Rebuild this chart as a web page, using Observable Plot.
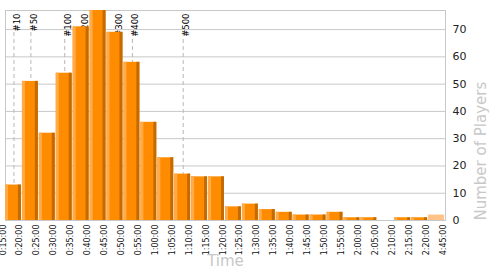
<!DOCTYPE html>
<html>
<head>
<meta charset="utf-8">
<script src="https://cdn.jsdelivr.net/npm/d3@7"></script>
<script src="https://cdn.jsdelivr.net/npm/@observablehq/plot@0.6"></script>
<style>
  html, body { margin: 0; padding: 0; background: #fff; }
  #chart svg { display: block; }
</style>
</head>
<body>
<div id="chart"></div>
<script>
// Bin edges (tick labels) – last bin is an overflow bin 2:20:00–4:45:00
const edgeLabels = ["0:15:00","0:20:00","0:25:00","0:30:00","0:35:00","0:40:00","0:45:00","0:50:00","0:55:00","1:00:00","1:05:00","1:10:00","1:15:00","1:20:00","1:25:00","1:30:00","1:35:00","1:40:00","1:45:00","1:50:00","1:55:00","2:00:00","2:05:00","2:10:00","2:15:00","2:20:00","4:45:00"];
// Number of players per bin
const players = [13, 51, 32, 54, 71, 77, 69, 58, 36, 23, 17, 16, 16, 5, 6, 4, 3, 2, 2, 3, 1, 1, 0, 1, 1, 2];
// Rank markers
const ranks = [10, 50, 100, 200, 300, 400, 500];
const yTicks = [0, 10, 20, 30, 40, 50, 60, 70];

const bins = players.map((v, i) => ({i, v, last: i === players.length - 1}));
const cum = d3.cumsum(players);
const rankMarks = ranks.map(r => ({label: "#" + r, bin: cum.findIndex(c => c >= r) + 0.5}));

const W = 500, H = 275;
const mL = 5, mR = 55, mT = 10, mB = 55;
const bw = (W - mL - mR) / players.length;
const font = "DejaVu Sans, Verdana, sans-serif";

const plot = Plot.plot({
  width: W, height: H,
  marginLeft: mL, marginRight: mR, marginTop: mT, marginBottom: mB,
  style: {fontFamily: font, background: "#fff"},
  x: {type: "linear", domain: [0, players.length], axis: null},
  y: {domain: [0, 77], axis: null},
  marks: [
    Plot.ruleY(yTicks, {stroke: "#c8c8c8", strokeWidth: 1}),
    Plot.frame({stroke: "#c8c8c8"}),
    Plot.ruleX(rankMarks, {x: "bin", stroke: "#b8b8b8", strokeDasharray: "4,3", insetTop: 22}),
    Plot.text(rankMarks, {x: "bin", frameAnchor: "top", text: "label", rotate: -90, textAnchor: "end", dy: 3, fontSize: 8.5, fill: "#000"}),
    // main bar body
    Plot.rectY(bins, {x1: "i", x2: d => d.i + 1, y: "v", insetRight: 1, fill: d => d.last ? "#ffc387" : "#ff8c00"}),
    // left highlight strip
    Plot.rectY(bins.filter(d => !d.last && d.v > 0), {x1: "i", x2: d => d.i + 1, y: "v", insetRight: bw - 3, fill: "#ffab4a"}),
    // right shadow strip
    Plot.rectY(bins.filter(d => !d.last && d.v > 0), {x1: "i", x2: d => d.i + 1, y: "v", insetLeft: bw - 4, insetRight: 1, fill: "#c46a00"}),
    // x tick labels at bin edges
    Plot.text(edgeLabels, {x: (d, i) => i, frameAnchor: "bottom", text: d => d, rotate: -90, textAnchor: "end", dy: 4, fontSize: 8, fill: "#111"}),
    // y tick labels on the right
    Plot.text(yTicks, {y: d => d, frameAnchor: "right", text: d => String(d), textAnchor: "start", dx: 7, fontSize: 11, fill: "#222"}),
    // axis titles
    Plot.text(["Time"], {frameAnchor: "bottom", text: d => d, dy: 45, fontSize: 15, fill: "#c8c8c8"}),
    Plot.text(["Number of Players"], {frameAnchor: "bottom-right", text: d => d, rotate: -90, textAnchor: "start", dx: 40, fontSize: 15, fill: "#c8c8c8"})
  ]
});
document.getElementById("chart").appendChild(plot);
</script>
</body>
</html>
